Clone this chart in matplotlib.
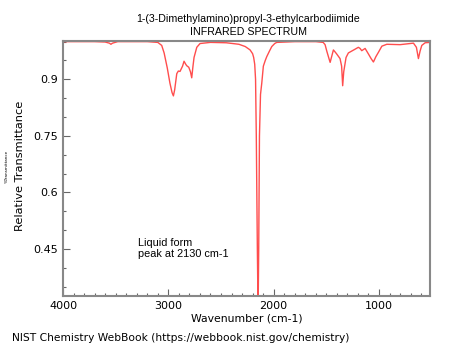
import matplotlib
matplotlib.use("Agg")
import matplotlib.pyplot as plt
from matplotlib.ticker import MultipleLocator

# spectrum
wavenumber = [4000, 3700, 3600, 3560, 3545, 3530, 3480, 3200, 3100, 3063, 3040,
              3010, 2985, 2965, 2952, 2940, 2920, 2905, 2889, 2865, 2851, 2835,
              2825, 2806, 2790, 2778, 2766, 2756, 2730, 2699, 2600, 2450, 2330,
              2270, 2224, 2200, 2190, 2180, 2172, 2165, 2155, 2148, 2142, 2135,
              2125, 2113, 2098, 2080, 2066, 2040, 2018, 1990, 1971, 1800, 1600,
              1530, 1512, 1496, 1475, 1464, 1450, 1433, 1415, 1401, 1370, 1355,
              1345, 1335, 1313, 1291, 1259, 1227, 1196, 1180, 1164, 1132, 1100,
              1075, 1053, 1030, 1005, 973, 926, 800, 673, 645, 626, 610, 594,
              562, 516]
transmittance = [1.0, 1.0, 0.999, 0.996, 0.993, 0.996, 1.0, 1.0, 0.998, 0.99, 0.97,
                 0.93, 0.89, 0.865, 0.856, 0.872, 0.915, 0.922, 0.921, 0.935, 0.948, 0.940,
                 0.936, 0.932, 0.92, 0.904, 0.935, 0.958, 0.985, 0.995, 0.998, 0.997, 0.993,
                 0.987, 0.978, 0.968, 0.958, 0.94, 0.9, 0.75, 0.45, 0.28, 0.45, 0.75,
                 0.86, 0.89, 0.935, 0.95, 0.96, 0.975, 0.987, 0.995, 0.998, 1.0, 1.0,
                 0.998, 0.992, 0.975, 0.955, 0.945, 0.96, 0.978, 0.972, 0.967, 0.955, 0.935,
                 0.883, 0.92, 0.958, 0.97, 0.975, 0.98, 0.985, 0.982, 0.976, 0.982, 0.967,
                 0.955, 0.946, 0.96, 0.972, 0.988, 0.993, 0.992, 0.996, 0.985, 0.955, 0.975, 0.99,
                 0.997, 0.998]

title1 = "1-(3-Dimethylamino)propyl-3-ethylcarbodiimide"
title2 = "INFRARED SPECTRUM"
note = "Liquid form\npeak at 2130 cm-1"
footer = "NIST Chemistry WebBook (https://webbook.nist.gov/chemistry)"


def main():
    fig = plt.figure(figsize=(4.5, 3.5), dpi=100)
    ax = fig.add_axes([63 / 450, 1 - 296 / 350, 367 / 450, 255 / 350])

    ax.plot(wavenumber, transmittance, color='#ff4d4d', lw=1.0)

    ax.set_xlim(4000, 516)
    ax.set_ylim(0.325, 1.0017)

    ax.xaxis.set_major_locator(MultipleLocator(1000))
    ax.xaxis.set_minor_locator(MultipleLocator(100))
    ax.yaxis.set_minor_locator(MultipleLocator(0.05))
    ax.set_yticks([0.45, 0.6, 0.75, 0.9])
    ax.set_yticklabels(['0.45', '0.6', '0.75', '0.9'])
    ax.tick_params(which='both', direction='in', colors='#666666', labelcolor='black',
                   labelsize=8)
    ax.tick_params(which='major', length=5, width=0.8)
    ax.tick_params(which='minor', length=2.5, width=0.8)
    for s in ax.spines.values():
        s.set_color('#888888')
        s.set_linewidth(1.5)

    ax.set_xlabel("Wavenumber (cm-1)", fontsize=7.8, labelpad=2)
    fig.text(20 / 450, 1 - 166 / 350, "Relative Transmittance", rotation=90,
             ha='center', va='center', fontsize=8.2)
    fig.text(7 / 450, 1 - 166 / 350, "%Transmittance", rotation=90,
             ha='center', va='center', fontsize=3)

    fig.text(248 / 450, 1 - 19 / 350, title1, ha='center', va='center',
             fontsize=7.7, family='Liberation Sans')
    fig.text(248 / 450, 1 - 32 / 350, title2, ha='center', va='center',
             fontsize=7.7, family='Liberation Sans')

    ax.text(3290, 0.478, note, ha='left', va='top', fontsize=7.8,
            family='Liberation Sans', linespacing=1.05)

    fig.text(12 / 450, 1 - 338 / 350, footer, ha='left', va='center', fontsize=7.7)

    fig.savefig("out.png", dpi=100)


if __name__ == "__main__":
    main()
